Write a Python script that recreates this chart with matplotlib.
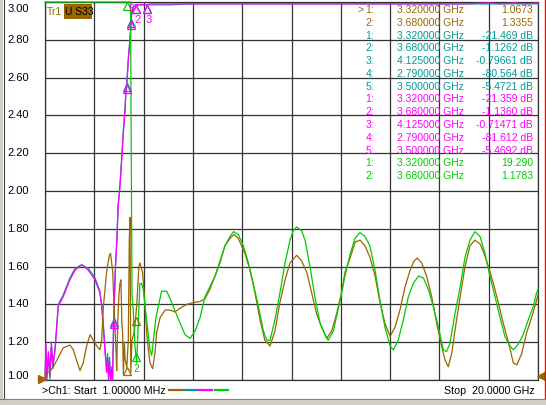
import numpy as np
import matplotlib
matplotlib.use('Agg')
import matplotlib.pyplot as plt
from matplotlib.lines import Line2D
from matplotlib.patches import Rectangle
import matplotlib.transforms as mtransforms

plt.rcParams['font.family'] = ['Liberation Sans', 'DejaVu Sans']

# ---------------- data (GHz, display units) ----------------
brown_f = [0.001, 0.07, 0.20, 0.34, 0.54, 0.74, 1.01, 1.15, 1.28, 1.42, 1.55, 1.69, 1.83, 1.96,
           2.10, 2.23, 2.30, 2.37, 2.50, 2.61, 2.66, 2.75, 2.80, 2.88, 2.91, 2.95, 3.00, 3.04,
           3.08, 3.12, 3.15, 3.18, 3.22, 3.25, 3.32, 3.38, 3.42, 3.45, 3.48, 3.53, 3.63, 3.68,
           3.72, 3.81, 3.85, 3.96, 4.06, 4.15, 4.26, 4.37, 4.46, 4.53, 4.67, 4.87, 5.07, 5.27,
           5.48, 5.75, 6.02, 6.29, 6.49, 6.69, 6.90, 7.10, 7.30, 7.51, 7.67, 7.84, 8.11, 8.32,
           8.52, 8.72, 8.92, 9.13, 9.33, 9.53, 9.74, 9.94, 10.21, 10.41, 10.62, 10.82, 11.02,
           11.22, 11.43, 11.63, 11.83, 12.03, 12.17, 12.39, 12.58, 12.78, 12.98, 13.18, 13.39,
           13.59, 13.79, 14.00, 14.20, 14.40, 14.60, 14.81, 14.97, 15.10, 15.28, 15.48, 15.69,
           15.89, 16.09, 16.23, 16.36, 16.50, 16.63, 16.84, 17.04, 17.24, 17.44, 17.65, 17.81,
           17.99, 18.19, 18.39, 18.59, 18.80, 19.00, 19.14, 19.34, 19.54, 19.74, 19.94, 20.0]
brown_v = [1.00, 1.04, 1.045, 1.07, 1.12, 1.17, 1.185, 1.16, 1.105, 1.05, 1.09, 1.18, 1.24, 1.21,
           1.18, 1.16, 1.21, 1.39, 1.57, 1.66, 1.67, 1.57, 1.39, 1.16, 1.05, 1.30, 1.45, 1.51,
           1.53, 1.30, 1.25, 1.03, 1.20, 1.11, 1.0673, 1.21, 1.74, 1.86, 1.04, 1.21, 1.26, 1.3355,
           1.39, 1.60, 1.62, 1.57, 1.39, 1.21, 1.09, 1.06, 1.14, 1.25, 1.33, 1.37, 1.37, 1.36,
           1.38, 1.40, 1.41, 1.415, 1.43, 1.48, 1.55, 1.62, 1.71, 1.75, 1.77, 1.75, 1.67, 1.58,
           1.46, 1.32, 1.21, 1.18, 1.26, 1.41, 1.53, 1.62, 1.66, 1.63, 1.57, 1.46, 1.35,
           1.28, 1.22, 1.26, 1.35, 1.46, 1.57, 1.65, 1.73, 1.74, 1.71, 1.65, 1.55,
           1.41, 1.30, 1.23, 1.28, 1.37, 1.49, 1.58, 1.63, 1.645, 1.62, 1.55, 1.44,
           1.30, 1.18, 1.105, 1.07, 1.14, 1.26, 1.44, 1.60, 1.71, 1.74, 1.72, 1.67,
           1.60, 1.51, 1.41, 1.30, 1.20, 1.09, 1.08, 1.14, 1.25, 1.33, 1.42, 1.45]

mag_f = [0.001, 0.04, 0.08, 0.14, 0.20, 0.26, 0.32, 0.41, 0.54, 0.74, 1.01, 1.22, 1.49, 1.76,
         2.03, 2.23, 2.30, 2.37, 2.43, 2.50, 2.54, 2.58, 2.62, 2.66, 2.71, 2.74, 2.79, 2.86,
         2.91, 2.97, 3.04, 3.11, 3.18, 3.25, 3.29, 3.32, 3.38, 3.45, 3.50, 3.52, 3.58, 3.68,
         4.125, 4.26, 5.0, 6.0, 7.0, 8.0, 9.0, 10.0, 11.0, 12.0, 13.0, 14.0, 15.0, 16.0,
         17.0, 18.0, 18.5, 19.0, 19.5, 20.0]
mag_v = [1.00, 1.19, 1.00, 1.15, 1.02, 1.20, 1.08, 1.16, 1.39, 1.44, 1.53, 1.58, 1.61, 1.58,
         1.53, 1.46, 1.39, 1.28, 1.16, 1.04, 1.12, 1.00, 1.10, 1.00, 1.05, 1.00, 1.32, 1.60,
         1.72, 1.92, 2.02, 2.16, 2.31, 2.43, 2.54, 2.56, 2.69, 2.80, 2.90, 2.94, 2.975, 2.985,
         2.985, 2.99, 2.99, 2.99, 2.99, 2.99, 2.99, 2.99, 2.99, 2.99, 2.99, 2.99, 2.99, 2.99,
         2.99, 2.995, 2.99, 2.995, 2.99, 2.995]

teal_f = [0.001, 0.04, 0.08, 0.14, 0.20, 0.26, 0.32, 0.41, 0.54, 0.74, 1.01, 1.22, 1.49, 1.76,
          2.03, 2.23, 2.30, 2.37, 2.43, 2.50, 2.54, 2.58, 2.62, 2.66, 2.71, 2.74, 2.79, 2.86,
          2.91, 2.97, 3.04, 3.11, 3.18, 3.25, 3.29, 3.32, 3.38, 3.45, 3.50, 3.52, 3.58, 3.68,
          4.125, 4.26, 5.0, 6.0, 20.0]
teal_v = [1.00, 1.17, 1.02, 1.13, 1.00, 1.18, 1.06, 1.17, 1.40, 1.45, 1.54, 1.59, 1.61, 1.59,
          1.54, 1.47, 1.40, 1.29, 1.17, 1.06, 1.14, 1.02, 1.12, 1.00, 1.07, 1.00, 1.33, 1.61,
          1.73, 1.93, 2.03, 2.17, 2.32, 2.44, 2.55, 2.57, 2.70, 2.81, 2.91, 2.95, 2.975, 2.985,
          2.985, 2.985, 2.985, 2.99, 2.99]

green_f = [0.001, 3.47, 3.50, 3.53, 3.58, 3.65, 3.72, 3.80, 3.85, 3.92, 3.99, 4.06, 4.19, 4.26,
           4.33, 4.40, 4.50, 4.73, 4.94, 5.14, 5.42, 5.68, 5.88, 6.09, 6.29, 6.49, 6.90, 7.10,
           7.30, 7.51, 7.65, 7.84, 8.05, 8.25, 8.45, 8.66, 8.86, 9.00, 9.13, 9.33, 9.53, 9.74,
           9.94, 10.07, 10.21, 10.41, 10.55, 10.75, 10.95, 11.16, 11.36, 11.49, 11.70, 11.97,
           12.17, 12.39, 12.58, 12.78, 12.98, 13.18, 13.39, 13.59, 13.79, 14.00, 14.13, 14.33,
           14.54, 14.74, 14.94, 15.15, 15.35, 15.55, 15.75, 15.96, 16.16, 16.29, 16.43, 16.63,
           16.84, 17.04, 17.24, 17.44, 17.65, 17.85, 18.05, 18.26, 18.46, 18.66, 18.86, 19.00,
           19.20, 19.40, 19.61, 19.81, 19.94, 20.0]
green_v = [3.00, 3.00, 2.20, 1.45, 1.37, 1.18, 1.09, 1.35, 1.51, 1.51, 1.48, 1.39, 1.24, 1.16,
           1.13, 1.21, 1.33, 1.47, 1.47, 1.41, 1.32, 1.24, 1.22, 1.26, 1.33, 1.44, 1.55, 1.63,
           1.71, 1.76, 1.785, 1.77, 1.71, 1.62, 1.51, 1.39, 1.26, 1.21, 1.21, 1.32, 1.46, 1.62,
           1.74, 1.79, 1.81, 1.79, 1.74, 1.60, 1.44, 1.30, 1.24, 1.21, 1.26, 1.42,
           1.55, 1.67, 1.75, 1.78, 1.76, 1.71, 1.58, 1.42, 1.28, 1.18, 1.16, 1.21,
           1.32, 1.44, 1.51, 1.55, 1.54, 1.48, 1.39, 1.28, 1.16, 1.15, 1.195, 1.35,
           1.49, 1.65, 1.74, 1.785, 1.76, 1.67, 1.55, 1.44, 1.33, 1.23, 1.18, 1.16,
           1.19, 1.24, 1.32, 1.39, 1.46, 1.48]

y_ticks = [3.00, 2.80, 2.60, 2.40, 2.20, 2.00, 1.80, 1.60, 1.40, 1.20, 1.00]
y_labels = ["3.00", "2.80", "2.60", "2.40", "2.20", "2.00", "1.80", "1.60", "1.40", "1.20", "1.00"]

brown_mk_f = [3.32, 3.68]
sp_mk_f = [3.32, 3.68, 4.125, 2.79, 3.50]
green_mk_f = [3.32, 3.68]

table_rows = [
    ("brown", "1:", "3.320000 GHz", "1.0673"),
    ("brown", "2:", "3.680000 GHz", "1.3355"),
    ("teal", "1:", "3.320000 GHz", "-21.469 dB"),
    ("teal", "2:", "3.680000 GHz", "-1.1262 dB"),
    ("teal", "3:", "4.125000 GHz", "-0.79661 dB"),
    ("teal", "4:", "2.790000 GHz", "-80.564 dB"),
    ("teal", "5:", "3.500000 GHz", "-5.4721 dB"),
    ("mag", "1:", "3.320000 GHz", "-21.359 dB"),
    ("mag", "2:", "3.680000 GHz", "-1.1360 dB"),
    ("mag", "3:", "4.125000 GHz", "-0.71471 dB"),
    ("mag", "4:", "2.790000 GHz", "-81.612 dB"),
    ("mag", "5:", "3.500000 GHz", "-5.4692 dB"),
    ("green", "1:", "3.320000 GHz", "19.290"),
    ("green", "2:", "3.680000 GHz", "1.1783"),
]

# ---------------- style ----------------
COL = {"brown": "#996600", "teal": "#009999", "mag": "#ff00ff", "green": "#00cc00"}
GRID = "#333333"
W, H = 546, 405

def px(x, y):
    return x / W, 1 - y / H

fig = plt.figure(figsize=(W / 100, H / 100), dpi=100)
fig.patch.set_facecolor("white")
L, R, T, B = 45, 538, 2, 380
ax = fig.add_axes([L / W, 1 - B / H, (R - L) / W, (B - T) / H])
ax.set_facecolor("white")
ax.set_xlim(0.001, 20.0)
ax.set_ylim(1.0, 3.0)
ax.set_xticks(np.linspace(0.001, 20.0, 11))
ax.set_yticks(y_ticks)
ax.grid(True, color=GRID, lw=0.9)
ax.tick_params(length=0, labelbottom=False, labelleft=False)
for s in ax.spines.values():
    s.set_color(GRID)
    s.set_linewidth(0.9)

lw = 0.9
ax.plot(teal_f, teal_v, color=COL["teal"], lw=lw, clip_on=False, zorder=3)
ax.plot(mag_f, mag_v, color=COL["mag"], lw=lw, clip_on=False, zorder=4)
ax.plot(brown_f, brown_v, color=COL["brown"], lw=lw, clip_on=False, zorder=5)
ax.plot(green_f, green_v, color=COL["green"], lw=lw, clip_on=False, zorder=6)

# markers
tri_tr = mtransforms.offset_copy(ax.transData, fig=fig, x=0, y=-4, units="dots")
def put_markers(fs, xs, ys, color, z):
    my = np.interp(fs, xs, ys)
    ax.plot(fs, my, linestyle="none", marker="^", ms=5.5, mfc="none", mec=color,
            mew=0.9, transform=tri_tr, clip_on=False, zorder=z)
    return my

put_markers(sp_mk_f, teal_f, teal_v, COL["teal"], 7)
my_mag = put_markers(sp_mk_f, mag_f, mag_v, COL["mag"], 8)
put_markers(brown_mk_f, brown_f, brown_v, COL["brown"], 9)
my_g = put_markers(green_mk_f, green_f, green_v, COL["green"], 10)

for i, lab in [(1, "2"), (2, "3")]:
    ax.annotate(lab, xy=(sp_mk_f[i], my_mag[i]), xytext=(2, -15), textcoords="offset pixels",
                ha="center", va="center", fontsize=8, color=COL["mag"], zorder=11)
ax.annotate("5", xy=(sp_mk_f[4], 3.0), xytext=(0, -7), textcoords="offset pixels",
            ha="center", va="center", fontsize=7.5, color=COL["mag"], zorder=11)
ax.annotate("4", xy=(sp_mk_f[3], my_mag[3]), xytext=(0, -8), textcoords="offset pixels",
            ha="center", va="center", fontsize=7, color=COL["mag"], zorder=11)
ax.annotate("2", xy=(green_mk_f[1], my_g[1]), xytext=(1, -16), textcoords="offset pixels",
            ha="center", va="center", fontsize=7.5, color=COL["green"], zorder=11)

# reference markers (left / right)
ax.plot([0], [0], transform=ax.transAxes + mtransforms.ScaledTranslation(-3 / 100, 1 / 100, fig.dpi_scale_trans),
        marker=">", ms=6, color=COL["brown"], clip_on=False, zorder=12)
ax.plot([1], [0], transform=ax.transAxes + mtransforms.ScaledTranslation(3 / 100, 4 / 100, fig.dpi_scale_trans),
        marker="<", ms=6, color=COL["brown"], clip_on=False, zorder=12)

# y labels
for v, lab in zip(y_ticks, y_labels):
    dy = 0
    if v == 3.00:
        dy = -7
    elif v == 1.00:
        dy = 4
    ax.annotate(lab, xy=(0, v), xycoords=("axes fraction", "data"), xytext=(-16, dy),
                textcoords="offset pixels", ha="right", va="center", fontsize=8, color="black")

# trace title
fig.text(*px(47, 12), "Tr1", ha="left", va="center", fontsize=7.5, color=COL["brown"])
fig.add_artist(Rectangle(px(64, 19), 28 / W, 15 / H, transform=fig.transFigure,
                         facecolor=COL["brown"], edgecolor="none", zorder=5))
fig.text(*px(65, 12), "U S33", ha="left", va="center", fontsize=7.5, color="black", zorder=6)

# marker table
fig.text(*px(357, 10), ">", ha="left", va="center", fontsize=7.5, color=COL["brown"], zorder=6)
for k, (c, lab, fq, val) in enumerate(table_rows):
    y = 10 + k * 12.78
    fig.text(*px(374, y), lab, ha="right", va="center", fontsize=7.5, color=COL[c], zorder=6)
    fig.text(*px(397, y), fq, ha="left", va="center", fontsize=7.5, color=COL[c], zorder=6)
    fig.text(*px(533, y), val, ha="right", va="center", fontsize=7.5, color=COL[c], zorder=6)

# bottom status line
fig.text(*px(42, 391), ">Ch1: Start  1.00000 MHz", ha="left", va="center", fontsize=7.7, color="black")
fig.text(*px(535, 391), "Stop  20.0000 GHz", ha="right", va="center", fontsize=7.7, color="black")
for (x0, x1), c in zip([(169, 182), (184, 197), (199, 212), (215, 228)], ["brown", "teal", "mag", "green"]):
    fig.add_artist(Line2D([x0 / W, x1 / W], [1 - 390 / H, 1 - 390 / H], transform=fig.transFigure,
                          color=COL[c], lw=1.6))

# frame decorations
fig.add_artist(Line2D([545 / W, 545 / W], [1 - 398 / H, 1.0], transform=fig.transFigure,
                      color="#ff0000", lw=1.0))
fig.add_artist(Rectangle((0, 0), 3 / W, 1, transform=fig.transFigure, facecolor="#d4d0c8",
                         edgecolor="none", zorder=1))
fig.add_artist(Line2D([3.5 / W, 3.5 / W], [1 - 399 / H, 1.0], transform=fig.transFigure,
                      color="#404040", lw=0.8))
fig.add_artist(Rectangle((0, 0), 1, 6 / H, transform=fig.transFigure, facecolor="#d4d0c8",
                         edgecolor="none", zorder=1))
fig.add_artist(Line2D([0, 1], [1 - 399 / H, 1 - 399 / H], transform=fig.transFigure,
                      color="#808080", lw=0.8))

fig.savefig("out.png", dpi=100, facecolor=fig.get_facecolor())
